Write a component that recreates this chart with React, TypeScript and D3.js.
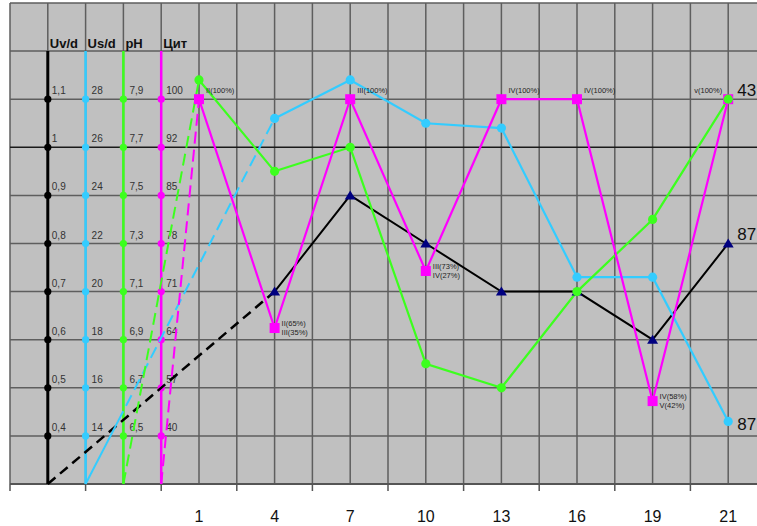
import React from "react";
import * as d3 from "d3";

const categories = ["1", "4", "7", "10", "13", "16", "19", "21"];
const uvd: (number | null)[] = [null, 0.7, 0.9, 0.8, 0.7, 0.7, 0.6, 0.8];
const usd: (number | null)[] = [null, 27.2, 28.8, 27.0, 26.8, 20.6, 20.6, 14.6];
const ph: (number | null)[] = [7.98, 7.6, 7.7, 6.8, 6.7, 7.1, 7.4, 7.9];
const cit: (number | null)[] = [100, 65.7, 100, 74, 100, 100, 52.3, 100];
const citNotes: string[][] = [
  ["II(100%)"],
  ["II(65%)", "III(35%)"],
  ["III(100%)"],
  ["III(73%)", "IV(27%)"],
  ["IV(100%)"],
  ["IV(100%)"],
  ["IV(58%)", "V(42%)"],
  ["v(100%)"],
];
const uvTicks = [1.1, 1, 0.9, 0.8, 0.7, 0.6, 0.5, 0.4];
const usTicks = [28, 26, 24, 22, 20, 18, 16, 14];
const phTicks = [7.9, 7.7, 7.5, 7.3, 7.1, 6.9, 6.7, 6.5];
const citTicks = [100, 92, 85, 78, 71, 64, 57, 40];
const axisNames = ["Uv/d", "Us/d", "pH", "Цит"];
const endLabels = { uv: "87", us: "87", cit: "43" };

const W = 757;
const H = 526;
const left = 10;
const top = 3;
const bottom = 484;
const colRight = 766;

const xCol = d3.scaleLinear().domain([0, 20]).range([left, colRight]);
const yUnit = d3.scaleLinear().domain([0, 10]).range([bottom, top]);
const catX = (i: number) => xCol(5 + 2 * i);

const uvScale = d3.scaleLinear().domain([0.3, 1.3]).range([bottom, top]);
const usScale = d3.scaleLinear().domain([12, 32]).range([bottom, top]);
const phScale = d3.scaleLinear().domain([6.3, 8.3]).range([bottom, top]);
const citScale = d3
  .scaleLinear()
  .domain([23, 40, 57, 64, 71, 78, 85, 92, 100, 108])
  .range(d3.range(10).map((u) => yUnit(u)));

const fmt = (v: number) => String(v).replace(".", ",");

const BLUE = "#33ccff";
const GREEN = "#3cff1e";
const MAG = "#ff00ff";
const NAVY = "#000080";

type Axis = { name: string; col: number; color: string; ticks: number[]; scale: any; width: number; lx: number };
const axes: Axis[] = [
  { name: axisNames[0], col: 1, color: "#000", ticks: uvTicks, scale: uvScale, width: 3, lx: 4 },
  { name: axisNames[1], col: 2, color: BLUE, ticks: usTicks, scale: usScale, width: 2.5, lx: 6 },
  { name: axisNames[2], col: 3, color: GREEN, ticks: phTicks, scale: phScale, width: 2.5, lx: 6 },
  { name: axisNames[3], col: 4, color: MAG, ticks: citTicks, scale: citScale, width: 2.5, lx: 5 },
];

function pts(vals: (number | null)[], scale: any): [number, number][] {
  const out: [number, number][] = [];
  vals.forEach((v, i) => {
    if (v != null) out.push([catX(i), scale(v)]);
  });
  return out;
}

const lineGen = d3.line<[number, number]>();

export default function App() {
  const uvP = pts(uvd, uvScale);
  const usP = pts(usd, usScale);
  const phP = pts(ph, phScale);
  const citP = pts(cit, citScale);

  const base = (col: number): [number, number] => [xCol(col), bottom];
  const usBase = base(2);
  const usFirst = usP[0];
  const solidFrac = 0.17;
  const usMid: [number, number] = [
    usBase[0] + (usFirst[0] - usBase[0]) * solidFrac,
    usBase[1] + (usFirst[1] - usBase[1]) * solidFrac,
  ];

  const tri = (x: number, y: number) => `M${x},${y - 5}L${x + 5.5},${y + 4}L${x - 5.5},${y + 4}Z`;

  return (
    <svg width={W} height={H} style={{ position: "absolute", left: 0, top: 0, fontFamily: "Liberation Sans, Arial, sans-serif" }}>
      <rect x={0} y={0} width={W} height={H} fill="#fff" />
      <rect x={left} y={top} width={colRight - left} height={bottom - top} fill="#c0c0c0" />
      {/* grid */}
      {d3.range(0, 21).map((c) => (
        <line key={"v" + c} x1={xCol(c)} x2={xCol(c)} y1={top} y2={bottom} stroke="#5e5e5e" strokeWidth={1.5} />
      ))}
      {d3.range(0, 11).map((u) => (
        <line key={"h" + u} x1={left} x2={colRight} y1={yUnit(u)} y2={yUnit(u)} stroke={u === 7 ? "#1a1a1a" : "#5e5e5e"} strokeWidth={1.5} />
      ))}
      {/* bottom axis */}
      <line x1={left} x2={W} y1={bottom} y2={bottom} stroke="#555" strokeWidth={2} />
      {d3.range(0, 21, 2).map((c) => (
        <line key={"t" + c} x1={xCol(c)} x2={xCol(c)} y1={bottom} y2={bottom + 7} stroke="#555" strokeWidth={1.5} />
      ))}
      {categories.map((c, i) => (
        <text key={"c" + i} x={catX(i)} y={522} textAnchor="middle" fontSize={16} fill="#111">
          {c}
        </text>
      ))}
      {/* left axes */}
      {axes.map((a) => (
        <g key={a.name}>
          <line x1={xCol(a.col)} x2={xCol(a.col)} y1={yUnit(9)} y2={bottom} stroke={a.color} strokeWidth={a.width} />
          <text x={xCol(a.col) + 2} y={47.5} fontSize={13} fontWeight="bold" fill="#111">
            {a.name}
          </text>
          {a.ticks.map((t) => (
            <g key={t}>
              <circle cx={xCol(a.col)} cy={a.scale(t)} r={3.6} fill={a.color} />
              <text x={xCol(a.col) + a.lx} y={a.scale(t) - 5} fontSize={10} fill="#333">
                {fmt(t)}
              </text>
            </g>
          ))}
        </g>
      ))}
      {/* lead-in dashed lines */}
      <path d={lineGen([base(1), uvP[0]])!} stroke="#000" strokeWidth={2.5} strokeDasharray="10 6" fill="none" />
      <path d={lineGen([usBase, usMid])!} stroke={BLUE} strokeWidth={2} fill="none" />
      <path d={lineGen([usMid, usFirst])!} stroke={BLUE} strokeWidth={2} strokeDasharray="12 6" fill="none" />
      <path d={lineGen([base(3), phP[0]])!} stroke={GREEN} strokeWidth={2} strokeDasharray="12 6" fill="none" />
      <path d={lineGen([base(4), citP[0]])!} stroke={MAG} strokeWidth={2} strokeDasharray="12 6" fill="none" />
      {/* series lines */}
      <path d={lineGen(uvP)!} stroke="#000" strokeWidth={2} fill="none" />
      <path d={lineGen(usP)!} stroke={BLUE} strokeWidth={2.2} fill="none" />
      <path d={lineGen(phP)!} stroke={GREEN} strokeWidth={2.2} fill="none" />
      <path d={lineGen(citP)!} stroke={MAG} strokeWidth={2.2} fill="none" />
      {/* markers */}
      {usP.map(([x, y], i) => (
        <circle key={"us" + i} cx={x} cy={y} r={4.6} fill={BLUE} />
      ))}
      {uvP.map(([x, y], i) => (
        <path key={"uv" + i} d={tri(x, y)} fill={NAVY} />
      ))}
      {citP.map(([x, y], i) => (
        <rect key={"ci" + i} x={x - 5} y={y - 5} width={10} height={10} fill={MAG} />
      ))}
      {phP.map(([x, y], i) => (
        <circle key={"ph" + i} cx={x} cy={y} r={4.6} fill={GREEN} />
      ))}
      {/* cit annotations */}
      {citP.map(([x, y], i) => {
        const notes = citNotes[i];
        const anchorEnd = i === citP.length - 1;
        const tx = anchorEnd ? x - 6 : x + 7;
        if (notes.length === 1) {
          return (
            <text key={"n" + i} x={tx} y={y - 6} fontSize={7.5} fill="#222" textAnchor={anchorEnd ? "end" : "start"}>
              {notes[0]}
            </text>
          );
        }
        return (
          <g key={"n" + i}>
            {notes.map((n, k) => (
              <text key={k} x={tx} y={y - 2 + k * 9} fontSize={7.5} fill="#222">
                {n}
              </text>
            ))}
          </g>
        );
      })}
      {/* end labels */}
      <text x={citP[citP.length - 1][0] + 9} y={citP[citP.length - 1][1] - 3} fontSize={17} fill="#111">
        {endLabels.cit}
      </text>
      <text x={uvP[uvP.length - 1][0] + 9} y={uvP[uvP.length - 1][1] - 4} fontSize={17} fill="#111">
        {endLabels.uv}
      </text>
      <text x={usP[usP.length - 1][0] + 9} y={usP[usP.length - 1][1] + 9} fontSize={17} fill="#111">
        {endLabels.us}
      </text>
    </svg>
  );
}
